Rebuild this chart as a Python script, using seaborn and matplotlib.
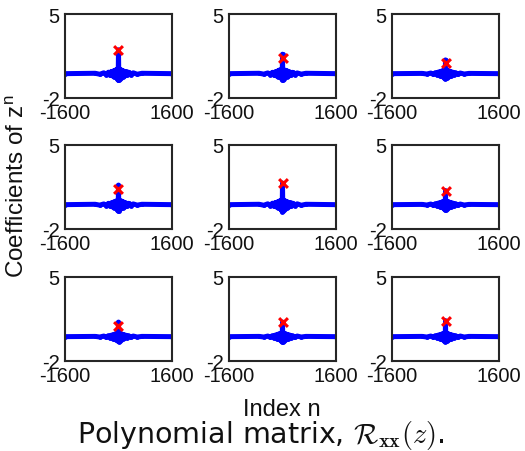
import numpy as np
import pandas as pd
import matplotlib
matplotlib.use("Agg")
import matplotlib.pyplot as plt
import seaborn as sns

# Lags n at which the central coefficients are listed (zero outside this span)
lags = [-1600, -700, -560, -440, -360, -300, -250, -210, -175, -145, -120, -95, -75,
        -55, -38, -22, -10, 0, 10, 22, 38, 55, 75, 95, 120, 145, 175, 210, 250,
        300, 360, 440, 560, 700, 1600]

# Coefficients of each entry R_ij(z) at the lags above
r11 = [0, 0.03, -0.05, 0.07, -0.09, 0.12, -0.15, 0.18, -0.20, 0.24, -0.27, 0.30, -0.32, 0.33,
       -0.42, 0.38, -0.55, 2.00, -0.55, 0.36, -0.44, 0.33, -0.33, 0.30, -0.26, 0.23, -0.21,
       0.18, -0.14, 0.12, -0.10, 0.07, -0.05, 0.03, 0]
r12 = [0, 0.03, -0.04, 0.06, -0.08, 0.11, -0.14, 0.17, -0.20, 0.23, -0.26, 0.30, -0.30, 0.32,
       -0.40, 0.35, -0.50, 1.63, -0.52, 0.34, -0.42, 0.30, -0.30, 0.28, -0.25, 0.22, -0.20,
       0.16, -0.13, 0.11, -0.08, 0.06, -0.04, 0.03, 0]
r13 = [0, 0.02, -0.03, 0.05, -0.07, 0.09, -0.11, 0.14, -0.16, 0.19, -0.21, 0.24, -0.25, 0.27,
       -0.33, 0.30, -0.42, 1.15, -0.40, 0.28, -0.34, 0.26, -0.25, 0.23, -0.20, 0.18, -0.16,
       0.13, -0.11, 0.09, -0.07, 0.05, -0.03, 0.02, 0]
r21 = [0, 0.03, -0.04, 0.06, -0.08, 0.11, -0.13, 0.16, -0.20, 0.22, -0.25, 0.28, -0.30, 0.32,
       -0.42, 0.34, -0.52, 1.64, -0.50, 0.35, -0.40, 0.32, -0.30, 0.30, -0.26, 0.23, -0.20,
       0.17, -0.14, 0.11, -0.08, 0.06, -0.04, 0.03, 0]
r22 = [0, 0.03, -0.05, 0.07, -0.09, 0.12, -0.15, 0.18, -0.21, 0.24, -0.27, 0.30, -0.32, 0.34,
       -0.44, 0.37, -0.58, 1.81, -0.56, 0.36, -0.45, 0.33, -0.33, 0.30, -0.27, 0.24, -0.21,
       0.18, -0.15, 0.12, -0.09, 0.07, -0.05, 0.03, 0]
r23 = [0, 0.02, -0.03, 0.05, -0.07, 0.09, -0.12, 0.14, -0.17, 0.19, -0.22, 0.24, -0.26, 0.28,
       -0.34, 0.30, -0.44, 1.18, -0.42, 0.29, -0.35, 0.27, -0.26, 0.24, -0.21, 0.19, -0.17,
       0.14, -0.12, 0.09, -0.07, 0.05, -0.03, 0.02, 0]
r31 = [0, 0.02, -0.03, 0.05, -0.07, 0.09, -0.11, 0.13, -0.16, 0.19, -0.21, 0.23, -0.25, 0.27,
       -0.32, 0.29, -0.40, 1.22, -0.41, 0.28, -0.33, 0.26, -0.24, 0.23, -0.21, 0.18, -0.15,
       0.13, -0.11, 0.09, -0.07, 0.05, -0.03, 0.02, 0]
r32 = [0, 0.02, -0.03, 0.05, -0.07, 0.09, -0.12, 0.14, -0.17, 0.20, -0.22, 0.24, -0.26, 0.28,
       -0.35, 0.30, -0.43, 1.22, -0.44, 0.29, -0.34, 0.27, -0.26, 0.24, -0.21, 0.19, -0.16,
       0.14, -0.12, 0.09, -0.07, 0.05, -0.03, 0.02, 0]
r33 = [0, 0.02, -0.03, 0.05, -0.07, 0.09, -0.11, 0.14, -0.16, 0.19, -0.21, 0.24, -0.25, 0.27,
       -0.33, 0.30, -0.41, 1.34, -0.40, 0.28, -0.33, 0.26, -0.25, 0.23, -0.20, 0.18, -0.16,
       0.13, -0.11, 0.09, -0.07, 0.05, -0.03, 0.02, 0]

coeffs = [[r11, r12, r13], [r21, r22, r23], [r31, r32, r33]]

# Reference value of each entry at lag zero (red crosses)
zero_lag = [[2.00, 1.29, 0.87],
            [1.30, 1.81, 1.16],
            [0.86, 1.22, 1.34]]

x_ticks = [-1600, 1600]
y_ticks = [-2, 5]

sns.set_style("white")
plt.rcParams["font.family"] = ["Liberation Sans", "DejaVu Sans"]
plt.rcParams["mathtext.fontset"] = "cm"

W, H = 525, 452
fig = plt.figure(figsize=(W / 100, H / 100), dpi=100)

col_left = [65, 229, 392]
row_top = [15, 146, 278]
ax_w, ax_h = 107, 83.5

for i in range(3):
    for j in range(3):
        ax = fig.add_axes([col_left[j] / W, 1 - (row_top[i] + ax_h) / H, ax_w / W, ax_h / H])
        df = pd.DataFrame({"n": lags, "c": coeffs[i][j]})
        sns.lineplot(data=df, x="n", y="c", ax=ax, sort=False, color="#0000ff",
                     linewidth=3.6, marker=".", markersize=7, markeredgewidth=0,
                     clip_on=True)
        sns.scatterplot(x=[0], y=[zero_lag[i][j]], ax=ax, marker="x", color="red",
                        s=40, linewidth=2.2, zorder=5)
        ax.set_xlim(x_ticks[0], x_ticks[1])
        ax.set_ylim(y_ticks[0], y_ticks[1])
        ax.set_xticks(x_ticks)
        ax.set_yticks(y_ticks)
        ax.set_xticklabels([str(t) for t in x_ticks])
        ax.set_yticklabels([str(t) for t in y_ticks])
        ax.tick_params(length=0, labelsize=14.5, pad=4, colors="#111111")
        ax.set_xlabel("")
        ax.set_ylabel("")
        for s in ax.spines.values():
            s.set_visible(True)
            s.set_color("#262626")
            s.set_linewidth(1.5)

fig.text(18 / W, 1 - 186 / H, r"Coefficients of z$^\mathregular{n}$", rotation=90,
         ha="center", va="center", fontsize=17.5, color="#111111")
fig.text(282 / W, 1 - 410 / H, "Index n", ha="center", va="center",
         fontsize=17, color="#111111")
fig.text(261 / W, 1 - 436 / H, r"Polynomial matrix, $\boldsymbol{\mathcal{R}}_{\mathbf{xx}}(z)$.",
         ha="center", va="center", fontsize=20.5, color="#111111",
         family=["DejaVu Sans"])

fig.savefig("out.png", dpi=100)
